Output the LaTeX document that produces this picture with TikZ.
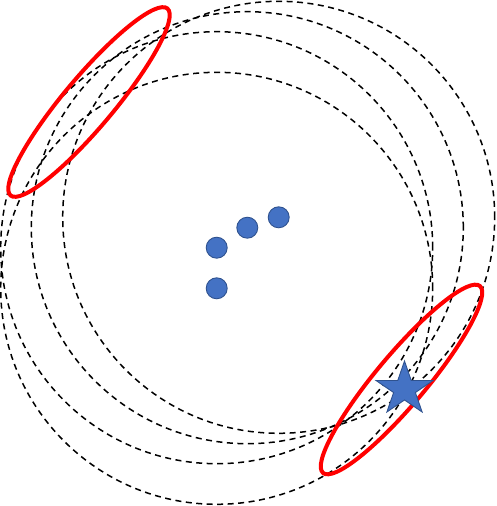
\documentclass[tikz,border=0pt]{standalone}
\definecolor{ptblue}{HTML}{4472C4}
\definecolor{ptborder}{HTML}{2F528F}
\tikzset{
  dashring/.style={draw=black, line width=1.5pt, dash pattern=on 6pt off 4.5pt},
  redring/.style={draw=red, line width=4pt},
  dot/.style={circle, fill=ptblue, draw=ptborder, line width=0.9pt, minimum size=21pt, inner sep=0pt},
  starshape/.style={fill=ptblue, draw=ptborder, line width=0.9pt, line join=miter}
}
\begin{document}
\begin{tikzpicture}[x=1pt,y=-1pt]
\useasboundingbox (0,0) rectangle (496,506);
\coordinate (c1) at (216.7,247.7);
\coordinate (c2) at (247.3,227.7);
\coordinate (c3) at (278.7,217.3);
\coordinate (c4) at (216.7,288.3);
% dashed circles centred on the dots
\foreach \c in {c1,c2,c3,c4}
  \draw[dashring] (\c) circle [radius=216pt];
% red ellipses
\draw[redring, rotate around={50:(89,102)}] (89,102) ellipse [x radius=122pt, y radius=25pt];
\draw[redring, rotate around={50:(401.5,379.5)}] (401.5,379.5) ellipse [x radius=122pt, y radius=25pt];
% dots
\node[dot] (d1) at (c1) {};
\node[dot] (d2) at (c2) {};
\node[dot] (d3) at (c3) {};
\node[dot] (d4) at (c4) {};
% star
\draw[starshape] (404.5,361.0) -- (411.23,380.49) -- (433.0,380.49) -- (415.39,392.53)
  -- (422.12,412.01) -- (404.5,399.97) -- (386.88,412.01) -- (393.61,392.53)
  -- (376.0,380.49) -- (397.77,380.49) -- cycle;
\end{tikzpicture}
\end{document}
